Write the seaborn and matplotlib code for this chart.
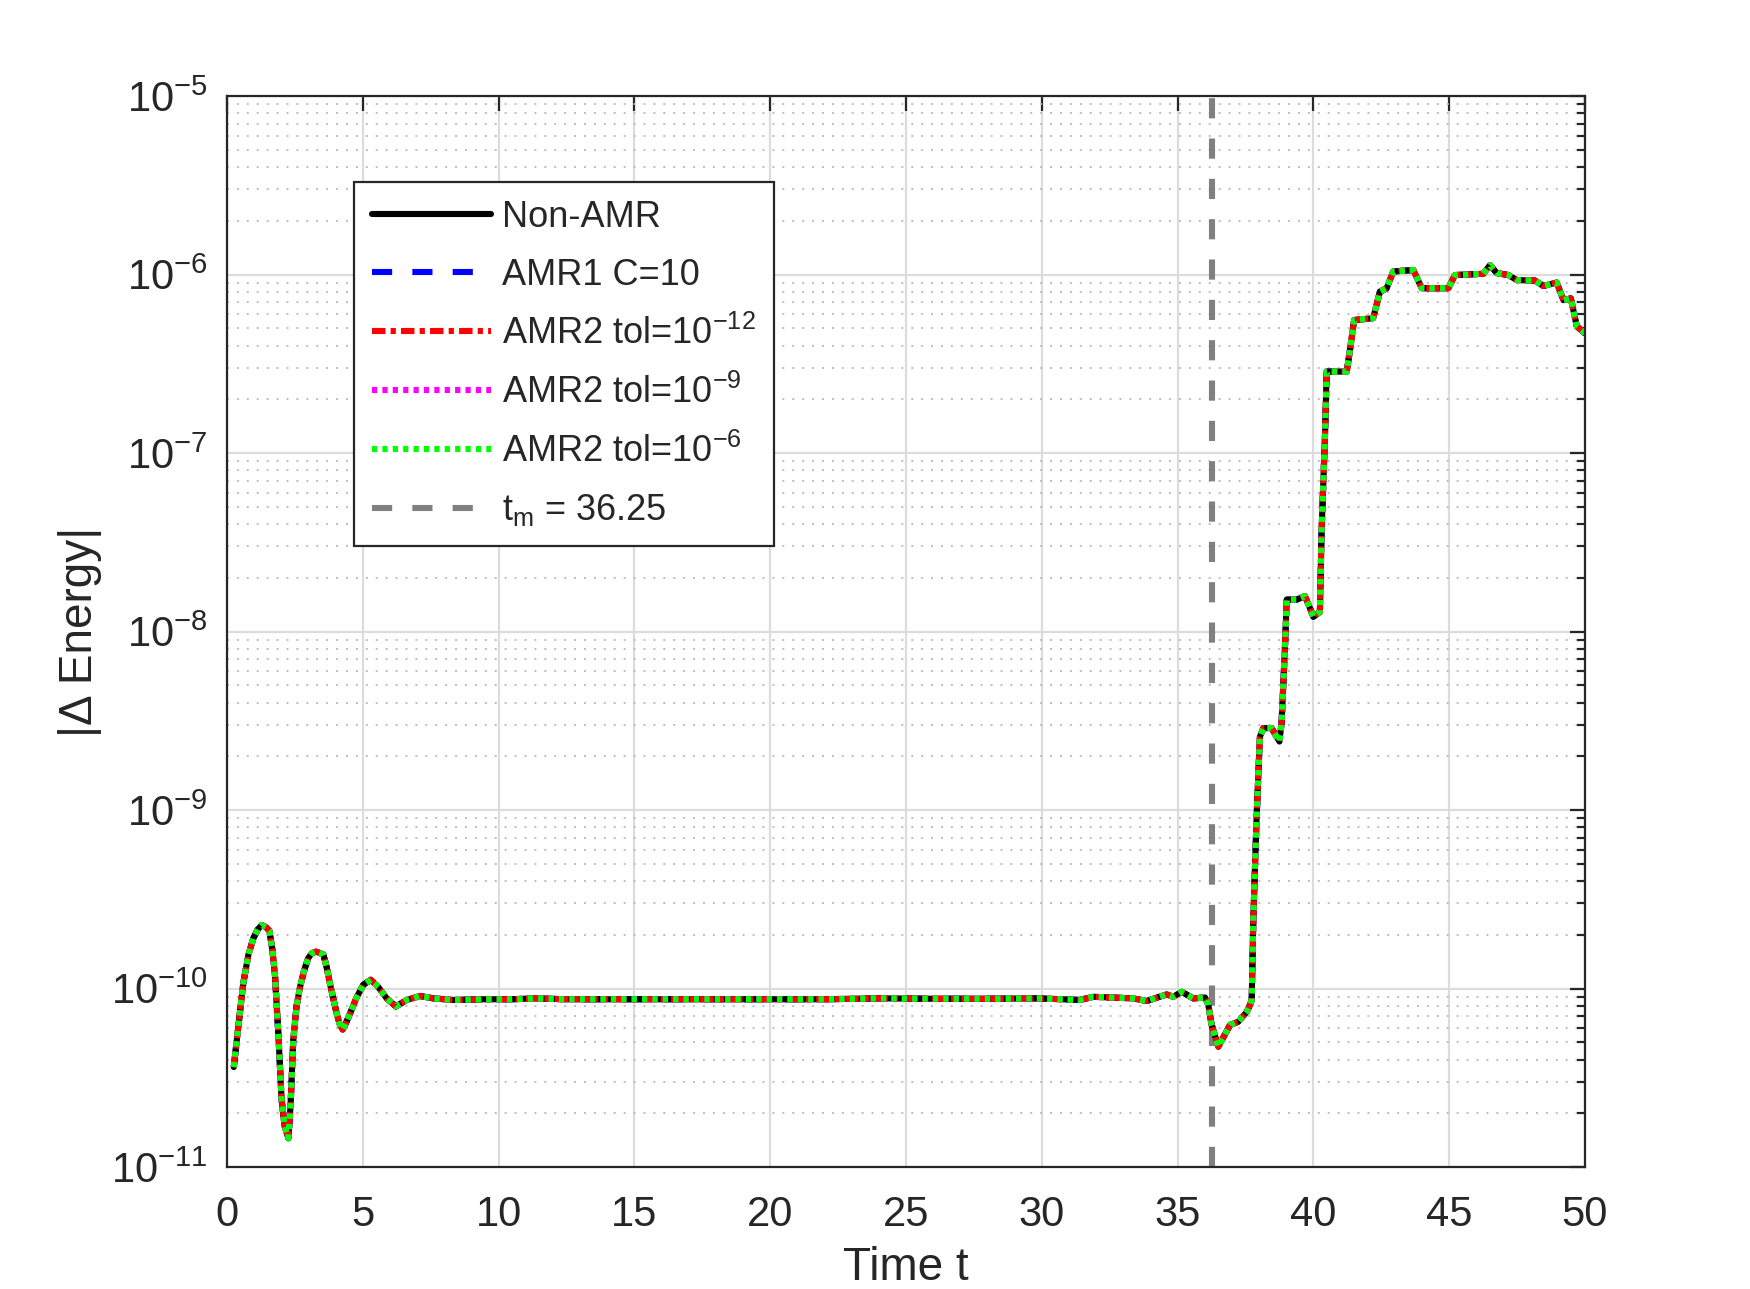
import numpy as np
import pandas as pd
import matplotlib
matplotlib.use("Agg")
import matplotlib.pyplot as plt
import matplotlib.ticker as mticker
import seaborn as sns

# ---- data ----
t = [0.25, 0.42, 0.60, 0.79, 0.97, 1.13, 1.28, 1.43, 1.56, 1.67, 1.77, 1.89, 2.01, 2.12,
     2.26, 2.34, 2.44, 2.56, 2.69, 2.84, 2.99, 3.13, 3.28, 3.42, 3.55, 3.67, 3.79, 3.92,
     4.04, 4.15, 4.26, 4.39, 4.53, 4.77, 5.02, 5.29, 5.57, 5.88, 6.22, 6.62, 7.11, 7.60,
     8.33, 9.5, 10.5, 11.3, 12.5, 14.3, 16.0, 18.0, 20.0, 22.0, 24.0, 26.0, 28.0, 29.9,
     31.4, 31.9, 33.37, 33.86, 34.6, 34.84, 35.15, 35.58, 36.01, 36.13, 36.25, 36.5,
     36.93, 37.24, 37.55, 37.67, 37.73, 37.79, 37.91, 38.03, 38.16, 38.46, 38.75, 38.83,
     38.95, 39.02, 39.39, 39.69, 39.85, 40.0, 40.15, 40.24, 40.3, 40.43, 40.49, 41.23,
     41.35, 41.5, 42.2, 42.45, 42.70, 42.94, 43.68, 43.99, 44.97, 45.21, 46.26, 46.5,
     46.75, 47.18, 47.49, 48.16, 48.47, 48.96, 49.21, 49.48, 49.70, 50.0]

dE = [3.63e-11, 6.17e-11, 1.07e-10, 1.55e-10, 1.91e-10, 2.14e-10, 2.27e-10, 2.21e-10,
      2.11e-10, 1.66e-10, 1.17e-10, 5.62e-11, 2.40e-11, 1.70e-11, 1.45e-11, 2.19e-11,
      5.13e-11, 7.94e-11, 1.02e-10, 1.26e-10, 1.48e-10, 1.58e-10, 1.61e-10, 1.58e-10,
      1.55e-10, 1.32e-10, 1.07e-10, 8.71e-11, 7.24e-11, 6.31e-11, 5.89e-11, 6.46e-11,
      7.24e-11, 8.91e-11, 1.05e-10, 1.12e-10, 1.02e-10, 8.81e-11, 7.94e-11, 8.63e-11,
      9.08e-11, 8.81e-11, 8.63e-11, 8.71e-11, 8.71e-11, 8.81e-11, 8.71e-11, 8.71e-11,
      8.71e-11, 8.71e-11, 8.71e-11, 8.71e-11, 8.81e-11, 8.77e-11, 8.77e-11, 8.81e-11,
      8.63e-11, 8.99e-11, 8.81e-11, 8.51e-11, 9.27e-11, 8.99e-11, 9.59e-11, 8.81e-11,
      8.91e-11, 8.13e-11, 6.31e-11, 4.72e-11, 6.25e-11, 6.52e-11, 7.41e-11, 8.13e-11,
      8.63e-11, 2.51e-10, 9.12e-10, 2.57e-9, 2.88e-9, 2.88e-9, 2.42e-9, 3.09e-9,
      7.94e-9, 1.51e-8, 1.51e-8, 1.58e-8, 1.38e-8, 1.21e-8, 1.26e-8, 1.29e-8,
      3.55e-8, 1.29e-7, 2.86e-7, 2.86e-7, 3.80e-7, 5.56e-7, 5.69e-7, 8.02e-7,
      8.38e-7, 1.04e-6, 1.06e-6, 8.38e-7, 8.38e-7, 9.93e-7, 1.01e-6, 1.13e-6,
      1.02e-6, 9.93e-7, 9.31e-7, 9.25e-7, 8.63e-7, 9.02e-7, 7.19e-7, 7.35e-7,
      5.13e-7, 4.68e-7]

series_labels = ["Non-AMR", "AMR1 C=10", r"AMR2 tol=10$^{-12}$",
                 r"AMR2 tol=10$^{-9}$", r"AMR2 tol=10$^{-6}$"]
t_m = 36.25
tm_label = r"t$_{m}$ = 36.25"
x_ticks = [0, 5, 10, 15, 20, 25, 30, 35, 40, 45, 50]

# ---- styling ----
sns.set_theme(style="white")
plt.rcParams["font.family"] = ["Liberation Sans", "DejaVu Sans"]
plt.rcParams["mathtext.fontset"] = "custom"
plt.rcParams["mathtext.rm"] = "Liberation Sans"
plt.rcParams["mathtext.default"] = "regular"
plt.rcParams["axes.unicode_minus"] = False
plt.rcParams["text.color"] = "#262626"
plt.rcParams["axes.labelcolor"] = "#262626"
plt.rcParams["xtick.color"] = "#262626"
plt.rcParams["ytick.color"] = "#262626"

fig = plt.figure(figsize=(8.75, 6.445), dpi=200)
ax = fig.add_axes([0.1297, 0.0946, 0.7760, 0.8309])

df = pd.DataFrame({"t": t, "dE": dE})

lw = 2.2
styles = [
    dict(color="black", linestyle="-", zorder=2.2),
    dict(color="#0000ff", linestyle=(0, (3.3, 3.3)), zorder=2.1),
    dict(color="#ff0000", linestyle=(0, (2.2, 0.85, 0.85, 0.85)), zorder=2.3),
    dict(color="#ff00ff", linestyle=(0, (0.85, 0.85)), zorder=2.4),
    dict(color="#00ff00", linestyle=(0, (0.85, 0.85)), zorder=2.5),
]
for lab, st in zip(series_labels, styles):
    sns.lineplot(data=df, x="t", y="dE", ax=ax, label=lab, linewidth=lw,
                 dash_capstyle="butt", sort=False, **st)

ax.axvline(t_m, color="#808080", linewidth=2.2, linestyle=(0, (3.3, 3.3)),
           dash_capstyle="butt", label=tm_label, zorder=2.0)

ax.set_yscale("log")
ax.set_xlim(0, 50)
ax.set_ylim(1e-11, 1e-5)
ax.set_xticks(x_ticks)
ax.yaxis.set_major_locator(mticker.LogLocator(base=10, numticks=10))
ax.yaxis.set_minor_locator(mticker.LogLocator(base=10, subs=np.arange(2, 10), numticks=20))
ax.xaxis.set_minor_locator(mticker.NullLocator())

ax.grid(True, which="major", color="#dcdcdc", linewidth=0.8, linestyle="-")
ax.yaxis.grid(True, which="minor", color="#bdbdbd", linewidth=0.7, linestyle=(0, (1, 4.1)))
ax.set_axisbelow(True)

for sp in ax.spines.values():
    sp.set_color("#262626")
    sp.set_linewidth(0.8)
    sp.set_visible(True)

ax.tick_params(which="both", direction="in", top=True, right=True, labelsize=15)
ax.tick_params(which="major", length=5.4, width=0.8)
ax.tick_params(which="minor", length=2.9, width=0.8)
ax.tick_params(axis="x", which="major", pad=10)
ax.tick_params(axis="y", which="major", pad=7)

ax.set_xlabel("Time t", fontsize=16.5, labelpad=4)
ax.set_ylabel("|Δ Energy|", fontsize=16.5, labelpad=3)

handles, labels = ax.get_legend_handles_labels()
leg = ax.legend(handles, labels, loc="upper left", bbox_to_anchor=(0.0935, 0.9197),
                borderaxespad=0, fontsize=13, frameon=True, fancybox=False, framealpha=1,
                edgecolor="#262626", handlelength=3.3, handletextpad=0.3,
                labelspacing=0.63, borderpad=0.5)
leg.get_frame().set_linewidth(0.8)

fig.savefig("out.png", dpi=200)
